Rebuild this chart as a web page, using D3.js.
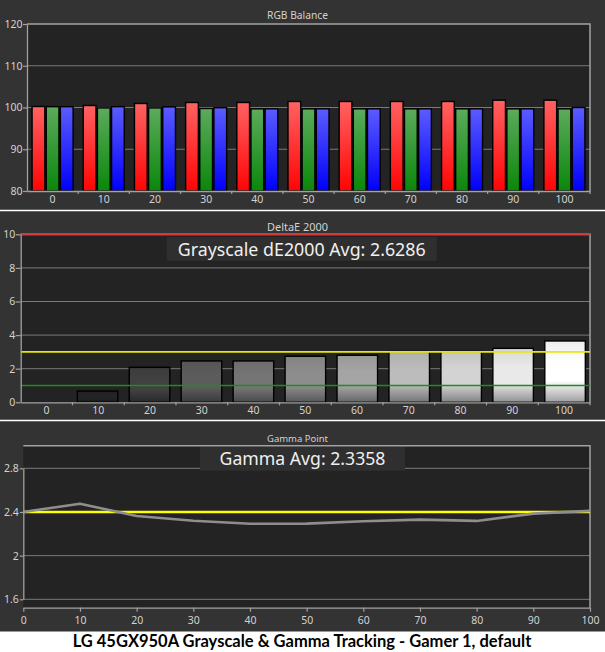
<!DOCTYPE html>
<html><head><meta charset="utf-8">
<script src="https://cdn.jsdelivr.net/npm/d3@7"></script>
<style>body{margin:0;background:#fff} svg{display:block}</style>
</head><body><svg id="c" width="605" height="652"></svg>
<script>
// ---------- data ----------
const categories = [0,10,20,30,40,50,60,70,80,90,100];
const redValues   = [100.24,100.48,100.96,101.2,101.2,101.44,101.44,101.44,101.44,101.75,101.75];
const greenValues = [100.2,99.9,99.9,99.76,99.68,99.68,99.68,99.68,99.68,99.68,99.68];
const blueValues  = [100.2,100.2,100.15,99.95,99.68,99.68,99.68,99.68,99.68,99.68,100.0];
const rgbTicks = [80,90,100,110,120];

const deltaEValues = [0,0.67,2.08,2.46,2.46,2.74,2.80,3.03,3.03,3.21,3.65];
const deltaETicks = [0,2,4,6,8,10];
const deltaELimitValues = [10,3,1];
const deltaELimitColors = ['#d33a3a','#e8e800','#1f8c1f'];

const gammaValues = [2.40,2.476,2.363,2.32,2.292,2.293,2.315,2.33,2.318,2.385,2.41];
const gammaTarget = 2.4;
const gammaTicks = [1.6,2,2.4,2.8];

const panelTitles = ['RGB Balance','DeltaE 2000','Gamma Point'];
const deltaEAvgLabel = 'Grayscale dE2000 Avg: 2.6286';
const gammaAvgLabel = 'Gamma Avg: 2.3358';
const chartTitle = 'LG 45GX950A Grayscale & Gamma Tracking - Gamer 1, default';

// ---------- drawing ----------
const svg = d3.select('#c');
const FONT = '"Noto Sans", "Open Sans", sans-serif';
const PLOT_BG = '#232323', PANEL_BG = '#333333', GRID = '#7a7a7a', BORDER = '#a2a2a2', TXT = '#d2d2d2';
const defs = svg.append('defs');

svg.append('rect').attr('width',605).attr('height',631.5).attr('fill',PANEL_BG);
[210.5, 420.5].forEach(y => svg.append('line').attr('x1',0).attr('x2',605).attr('y1',y).attr('y2',y)
  .attr('stroke','#fff').attr('stroke-width',1.5));

function fitText(sel, width) {
  const fs = parseFloat(sel.attr('font-size'));
  const w = sel.node().getComputedTextLength();
  sel.attr('font-size', fs * width / w);
}
function panelTitle(txt, y) {
  const t = svg.append('text').attr('x',297.5).attr('y',y).attr('text-anchor','middle')
    .attr('font-family',FONT).attr('font-size',10.5).attr('fill',TXT).text(txt);
  fitText(t, 61);
}
function styleAxis(g, fs) {
  g.selectAll('path.domain').attr('stroke',BORDER).attr('stroke-width',1.3);
  g.selectAll('.tick line').attr('stroke',BORDER).attr('stroke-width',1.2);
  g.selectAll('text').attr('fill',TXT).attr('font-family',FONT).attr('font-size',fs);
}
function plotFrame(P, y, ticks) {
  svg.append('rect').attr('x',P.l).attr('y',P.t).attr('width',P.r-P.l).attr('height',P.b-P.t).attr('fill',PLOT_BG);
  svg.append('g').selectAll('line').data(ticks).join('line')
    .attr('x1',P.l).attr('x2',P.r).attr('y1',d=>y(d)).attr('y2',d=>y(d))
    .attr('stroke',GRID).attr('stroke-width',1);
}
function plotBorder(P) {
  svg.append('path').attr('d',`M${P.l},${P.t}H${P.r}V${P.b}`).attr('fill','none')
    .attr('stroke',BORDER).attr('stroke-width',1.5);
}

// ===== Panel 1: RGB Balance =====
panelTitle(panelTitles[0], 18.8);
{
  const P = {l:27, r:590, t:24, b:191};
  const x = d3.scaleBand().domain(categories.map(String)).range([P.l,P.r]);
  const xs = d3.scaleBand().domain(['R','G','B']).range([0,x.bandwidth()]).paddingInner(0.1).paddingOuter(0.36);
  const y = d3.scaleLinear().domain([80,120]).range([P.b,P.t]);
  plotFrame(P, y, rgbTicks.slice(1,-1));
  const grads = {R:['#ff6262','#ff0404'], G:['#5cab5c','#0a870a'], B:['#5c5cff','#0000fa']};
  Object.entries(grads).forEach(([k,c]) => {
    const g = defs.append('linearGradient').attr('id','g'+k).attr('x1',0).attr('y1',0).attr('x2',0).attr('y2',1);
    g.append('stop').attr('offset','0%').attr('stop-color',c[0]);
    g.append('stop').attr('offset','100%').attr('stop-color',c[1]);
  });
  const series = [['R',redValues],['G',greenValues],['B',blueValues]];
  const data = [];
  categories.forEach((c,i) => series.forEach(([k,v]) => data.push({c:String(c),k,v:v[i]})));
  svg.append('g').selectAll('rect').data(data).join('rect')
    .attr('x',d=>x(d.c)+xs(d.k)).attr('width',xs.bandwidth())
    .attr('y',d=>y(d.v)).attr('height',d=>y(80)-y(d.v))
    .attr('fill',d=>`url(#g${d.k})`).attr('stroke','#000').attr('stroke-width',1.4);
  plotBorder(P);
  const ya = svg.append('g').attr('transform',`translate(${P.l},0)`)
    .call(d3.axisLeft(y).tickValues(rgbTicks).tickSize(4).tickSizeOuter(0).tickPadding(0.5));
  styleAxis(ya, 10.5);
  const xa = svg.append('g').attr('transform',`translate(0,${P.b})`)
    .call(d3.axisBottom(x).tickSize(0).tickSizeOuter(0).tickPadding(4.5));
  styleAxis(xa, 10.5);
  svg.append('g').selectAll('line').data(categories.slice(1).map(String)).join('line')
    .attr('x1',d=>x(d)).attr('x2',d=>x(d)).attr('y1',P.b).attr('y2',P.b+3)
    .attr('stroke',BORDER).attr('stroke-width',1.2);
  svg.append('line').attr('x1',P.r).attr('x2',P.r).attr('y1',P.b).attr('y2',P.b+3).attr('stroke',BORDER).attr('stroke-width',1.2);
}

// ===== Panel 2: DeltaE 2000 =====
panelTitle(panelTitles[1], 230.6);
{
  const P = {l:20.7, r:590, t:234.3, b:402.3};
  const x = d3.scaleBand().domain(categories.map(String)).range([P.l,P.r]);
  const xb = d3.scaleBand().domain(categories.map(String)).range([P.l,P.r]).paddingInner(0.22).paddingOuter(0.09);
  const y = d3.scaleLinear().domain([0,10]).range([P.b,P.t]);
  plotFrame(P, y, deltaETicks.slice(1,-1));
  categories.forEach(c => {
    const v = Math.round(255*Math.pow(c/100,0.85));
    const top = d3.rgb(v,v,v), bot = d3.rgb(v*0.62,v*0.62,v*0.62);
    const g = defs.append('linearGradient').attr('id','d'+c).attr('x1',0).attr('y1',0).attr('x2',0).attr('y2',1);
    g.append('stop').attr('offset','0%').attr('stop-color',d3.rgb(v*0.93,v*0.93,v*0.93));
    g.append('stop').attr('offset','35%').attr('stop-color',top);
    g.append('stop').attr('offset','65%').attr('stop-color',top);
    g.append('stop').attr('offset','100%').attr('stop-color',bot);
  });
  svg.append('g').selectAll('rect').data(categories.map((c,i)=>({c,v:deltaEValues[i]})).filter(d=>d.v>0)).join('rect')
    .attr('x',d=>xb(String(d.c))).attr('width',xb.bandwidth())
    .attr('y',d=>y(d.v)).attr('height',d=>y(0)-y(d.v))
    .attr('fill',d=>`url(#d${d.c})`).attr('stroke','#000').attr('stroke-width',1.4);
  plotBorder(P);
  svg.append('g').selectAll('line').data(deltaELimitValues).join('line')
    .attr('x1',P.l).attr('x2',P.r).attr('y1',d=>y(d)).attr('y2',d=>y(d))
    .attr('stroke',(d,i)=>deltaELimitColors[i]).attr('stroke-width',(d,i)=>i===0?2.4:1.6);
  const ya = svg.append('g').attr('transform',`translate(${P.l},0)`)
    .call(d3.axisLeft(y).tickValues(deltaETicks).tickSize(5).tickSizeOuter(0).tickPadding(0.5));
  styleAxis(ya, 10.5);
  const xa = svg.append('g').attr('transform',`translate(0,${P.b})`)
    .call(d3.axisBottom(x).tickSize(0).tickSizeOuter(0).tickPadding(3.8));
  styleAxis(xa, 10.5);
  svg.append('g').selectAll('line').data(categories.slice(1).map(String)).join('line')
    .attr('x1',d=>x(d)).attr('x2',d=>x(d)).attr('y1',P.b).attr('y2',P.b+3)
    .attr('stroke',BORDER).attr('stroke-width',1.2);
  svg.append('line').attr('x1',P.r).attr('x2',P.r).attr('y1',P.b).attr('y2',P.b+3).attr('stroke',BORDER).attr('stroke-width',1.2);
  // average box
  svg.append('rect').attr('x',166.7).attr('y',237.3).attr('width',270).attr('height',23.4).attr('fill','#2f2f2f');
  const t = svg.append('text').attr('x',301.7).attr('y',255.8).attr('text-anchor','middle')
    .attr('font-family',FONT).attr('font-size',18).attr('fill','#f0f0f0').text(deltaEAvgLabel);
  fitText(t, 248);
}

// ===== Panel 3: Gamma Point =====
panelTitle(panelTitles[2], 441.6);
{
  const P = {l:23.3, r:590, t:445.7, b:607.7};
  const x = d3.scaleLinear().domain([0,100]).range([P.l,P.r]);
  const y = d3.scaleLinear().domain([1.6,2.8]).range([599.3,468.3]);
  plotFrame(P, y, gammaTicks);
  svg.append('rect').attr('x',200).attr('y',446.7).attr('width',205).attr('height',24).attr('fill','#2f2f2f');
  const t = svg.append('text').attr('x',302.5).attr('y',465.3).attr('text-anchor','middle')
    .attr('font-family',FONT).attr('font-size',18).attr('fill','#f0f0f0').text(gammaAvgLabel);
  fitText(t, 166);
  plotBorder(P);
  svg.append('line').attr('x1',P.l).attr('x2',P.r).attr('y1',y(gammaTarget)).attr('y2',y(gammaTarget))
    .attr('stroke','#ffff00').attr('stroke-width',2.6);
  svg.append('path').datum(categories.map((c,i)=>[c,gammaValues[i]]))
    .attr('d',d3.line().x(d=>x(d[0])).y(d=>y(d[1])))
    .attr('fill','none').attr('stroke','#8e8e8e').attr('stroke-width',2.6).attr('stroke-linejoin','round');
  const ya = svg.append('g').attr('transform',`translate(${P.l},0)`)
    .call(d3.axisLeft(y).tickValues(gammaTicks).tickFormat(d3.format('~g')).tickSize(3.5).tickSizeOuter(0).tickPadding(1));
  styleAxis(ya, 10.5);
  const xa = svg.append('g').attr('transform',`translate(0,${P.b})`)
    .call(d3.axisBottom(x).tickValues(categories).tickSize(4).tickSizeOuter(0).tickPadding(5));
  styleAxis(xa, 10.5);
}

// ===== Chart title =====
{
  const t = svg.append('text').attr('x',302).attr('y',646.5).attr('text-anchor','middle')
    .attr('font-family','Lato, "Open Sans", sans-serif').attr('font-weight','bold')
    .attr('font-size',15).attr('fill','#000').text(chartTitle);
  fitText(t, 459);
}
</script></body></html>
